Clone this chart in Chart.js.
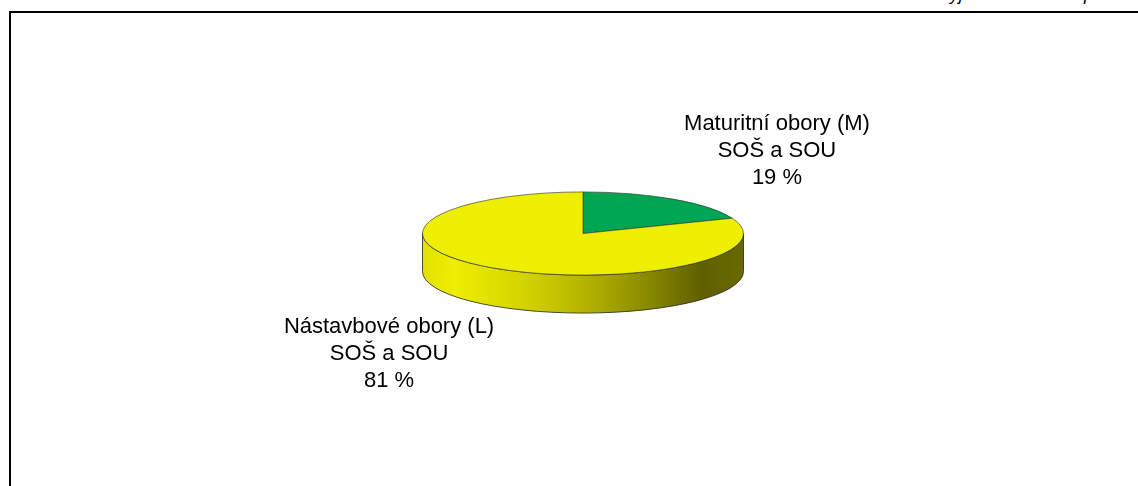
<!DOCTYPE html>
<html lang="cs">
<head>
<meta charset="utf-8">
<script src="https://cdn.jsdelivr.net/npm/chart.js@4.4.1/dist/chart.umd.min.js"></script>
<style>
    html, body { margin: 0; padding: 0; background: #fff; overflow: hidden; }
    #ramecek {
        position: absolute; left: 9px; top: 11px;
        width: 1300px; height: 700px;
        border: 2px solid #000;
    }
    #nadpis {
        position: absolute; left: 941px; top: -16px;
        font: italic 18px "Liberation Sans", Arial, sans-serif;
        line-height: 20px;
        color: #000; white-space: nowrap;
    }
    #graf { position: absolute; left: 0; top: 0; }
</style>
</head>
<body>
<div id="nadpis">vyjádření oborů v procentech</div>
<div id="ramecek"></div>
<canvas id="graf" width="1138" height="486"></canvas>
<script>
const kategorie = [
    ['Maturitní obory (M)', 'SOŠ a SOU'],
    ['Nástavbové obory (L)', 'SOŠ a SOU']
];
const podily = [19, 81];
const popisky = ['19 %', '81 %'];
const barvy = ['#00A651', '#EEEE00'];

// vzhled 3D kolace
const sklon = 0.259;      // pomer poloos elipsy
const hloubka = 38;       // vyska boku v px

function ztmavit(hex, f) {
    const r = parseInt(hex.slice(1, 3), 16), g = parseInt(hex.slice(3, 5), 16), b = parseInt(hex.slice(5, 7), 16);
    return `rgb(${Math.round(r * f)}, ${Math.round(g * f)}, ${Math.round(b * f)})`;
}

const kolac3d = {
    id: 'kolac3d',
    beforeDatasetsDraw(chart) {
        const ctx = chart.ctx;
        const oblouky = chart.getDatasetMeta(0).data;
        const cx = oblouky[0].x, cy = oblouky[0].y, rx = oblouky[0].outerRadius, ry = rx * sklon;

        // bok (jen predni polovina)
        oblouky.forEach((arc, i) => {
            let a = Math.max(arc.startAngle, 0);
            let b = Math.min(arc.endAngle, Math.PI);
            if (b <= a) return;
            const grad = ctx.createLinearGradient(cx - rx, 0, cx + rx, 0);
            [[0, 0.95], [0.1, 1.0], [0.3, 0.9], [0.5, 0.76], [0.7, 0.58], [0.87, 0.4], [1, 0.44]]
                .forEach(([p, f]) => grad.addColorStop(p, ztmavit(barvy[i], f)));
            ctx.save();
            ctx.beginPath();
            ctx.ellipse(cx, cy, rx, ry, 0, a, b);
            ctx.ellipse(cx, cy + hloubka, rx, ry, 0, b, a, true);
            ctx.closePath();
            ctx.fillStyle = grad;
            ctx.fill();
            ctx.strokeStyle = '#222';
            ctx.lineWidth = 0.8;
            ctx.stroke();
            ctx.restore();
        });

        ctx.save();
        ctx.translate(cx, cy);
        ctx.scale(1, sklon);
        ctx.translate(-cx, -cy);
    },
    afterDatasetsDraw(chart) {
        const ctx = chart.ctx;
        ctx.restore();
        const oblouky = chart.getDatasetMeta(0).data;
        const cx = oblouky[0].x, cy = oblouky[0].y, rx = oblouky[0].outerRadius, ry = rx * sklon;

        ctx.save();
        ctx.font = '22px "Liberation Sans", Arial, sans-serif';
        ctx.fillStyle = '#000';
        ctx.textAlign = 'center';
        ctx.textBaseline = 'middle';
        oblouky.forEach((arc, i) => {
            const m = (arc.startAngle + arc.endAngle) / 2;
            const ex = Math.cos(m), ey = Math.sin(m);
            const x = cx + 2.15 * rx * ex;
            const y = cy + 2.4 * ry * ey + (ey > 0 ? hloubka : 0);
            const radky = [...kategorie[i], popisky[i]];
            radky.forEach((t, j) => ctx.fillText(t, x, y + (j - 1) * 27));
        });
        ctx.restore();
    }
};

new Chart(document.getElementById('graf'), {
    type: 'pie',
    data: {
        labels: kategorie.map(k => k.join(' ')),
        datasets: [{
            data: podily,
            backgroundColor: barvy,
            borderColor: '#333',
            borderWidth: 1
        }]
    },
    options: {
        responsive: false,
        animation: false,
        devicePixelRatio: 1,
        layout: { padding: { left: 422, right: 394, top: 72.5, bottom: 91.5 } },
        plugins: {
            legend: { display: false },
            tooltip: { enabled: false }
        }
    },
    plugins: [kolac3d]
});
</script>
</body>
</html>
